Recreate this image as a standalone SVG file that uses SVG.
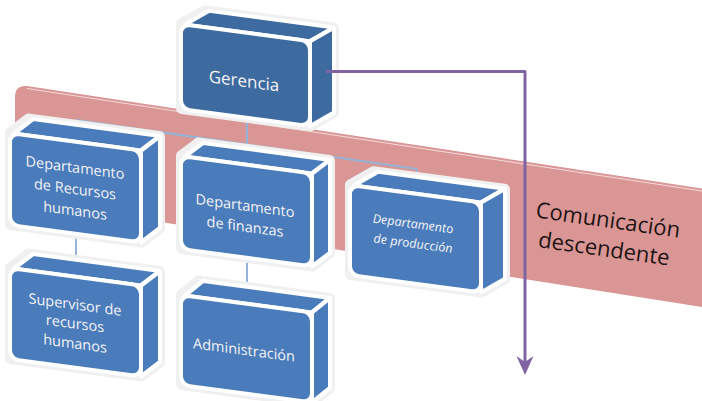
<svg xmlns="http://www.w3.org/2000/svg" width="702" height="401" viewBox="0 0 702 401">
<style>
.face{fill:#4a7bbb;stroke:#ffffff;stroke-width:4;stroke-linejoin:round}
.dark .face{fill:#3d6a9f}
.glow{fill:none;stroke:#f0f0f0;stroke-width:10;stroke-linejoin:round}
.lbl{font-family:"Open Sans","Liberation Sans",sans-serif;font-size:14.5px;fill:#f4f4f4;text-anchor:middle}
.conn{stroke:#95b3d7;stroke-width:2;fill:none}
.band{fill:#d99694}
.bandtxt{font-family:"Open Sans","Liberation Sans",sans-serif;font-size:22px;fill:#1e1414;text-anchor:middle}
</style>
<defs>
<marker id="arr" markerUnits="userSpaceOnUse" viewBox="-20 -10 21 20" markerWidth="21" markerHeight="20" refX="-12" refY="0" orient="auto">
<path d="M0,0 L-19,-8.5 L-13,0 L-19,8.5 Z" fill="#8064a2"/>
</marker>
</defs>
<g id="band">
<path class="band" d="M15,97 Q15,85 27,86 L702,188.4 L702,307 L15,199 Z"/>
<path d="M27,88.5 L702,191" stroke="#f2dcdb" stroke-width="1" fill="none"/>
<g transform="translate(607,227.5) rotate(8)">
<text class="bandtxt" x="0" y="0">Comunicación</text>
<text class="bandtxt" x="0" y="29">descendente</text>
</g>
</g>
<g id="connectors">
<path class="conn" d="M76,120 L417,169"/>
<path class="conn" d="M247,110 L247,160"/>
<path class="conn" d="M76,120 L76,140"/>
<path class="conn" d="M417,169 L417,192"/>
<path class="conn" d="M76,235 L76,275"/>
<path class="conn" d="M247,258 L247,305"/>
</g>
<g id="gerencia" class="dark" transform="translate(181,24) skewY(7.6)">
<path class="glow" d="M0,0 L24,-17 L153,-17 L153,68 L129,85 L0,85 Z"/>
<path class="face" d="M4,0 L129,0 L153,-17 L28,-17 Z"/>
<path class="face" d="M129,0 L153,-17 L153,68 L129,85 Z"/>
<rect class="face" x="0" y="0" width="129" height="85" rx="9"/>
<text class="lbl" x="63" y="54.5" style="font-size:17px">Gerencia</text>
</g>
<g id="rrhh" transform="translate(10,133) skewY(7.6)">
<path class="glow" d="M0,0 L19,-17 L150,-17 L150,75 L131,92 L0,92 Z"/>
<path class="face" d="M4,0 L131,0 L150,-17 L23,-17 Z"/>
<path class="face" d="M131,0 L150,-17 L150,75 L131,92 Z"/>
<rect class="face" x="0" y="0" width="131" height="92" rx="9"/>
<text class="lbl" x="65" y="31">Departamento</text>
<text class="lbl" x="65" y="52.5">de Recursos</text>
<text class="lbl" x="65" y="74">humanos</text>
</g>
<g id="finanzas" transform="translate(181,156) skewY(7.6)">
<path class="glow" d="M0,0 L18,-16 L149,-16 L149,77 L131,93 L0,93 Z"/>
<path class="face" d="M4,0 L131,0 L149,-16 L22,-16 Z"/>
<path class="face" d="M131,0 L149,-16 L149,77 L131,93 Z"/>
<rect class="face" x="0" y="0" width="131" height="93" rx="9"/>
<text class="lbl" x="64" y="46.2">Departamento</text>
<text class="lbl" x="64" y="67.2">de finanzas</text>
</g>
<g id="produccion" transform="translate(350,185) skewY(7.6)">
<path class="glow" d="M0,0 L24,-17 L155,-17 L155,73 L131,90 L0,90 Z"/>
<path class="face" d="M4,0 L131,0 L155,-17 L28,-17 Z"/>
<path class="face" d="M131,0 L155,-17 L155,73 L131,90 Z"/>
<rect class="face" x="0" y="0" width="131" height="90" rx="9"/>
<text class="lbl" x="63" y="34.6" style="font-size:12.5px;font-style:italic">Departamento</text>
<text class="lbl" x="63" y="54.3" style="font-size:12.5px;font-style:italic">de producción</text>
</g>
<g id="supervisor" transform="translate(10,268) skewY(7.6)">
<path class="glow" d="M0,0 L19,-17 L150,-17 L150,74 L131,91 L0,91 Z"/>
<path class="face" d="M4,0 L131,0 L150,-17 L23,-17 Z"/>
<path class="face" d="M131,0 L150,-17 L150,74 L131,91 Z"/>
<rect class="face" x="0" y="0" width="131" height="91" rx="9"/>
<text class="lbl" x="65" y="32.9">Supervisor de</text>
<text class="lbl" x="65" y="51.9">recursos</text>
<text class="lbl" x="65" y="71.9">humanos</text>
</g>
<g id="administracion" transform="translate(181,295) skewY(7.6)">
<path class="glow" d="M0,0 L18,-17 L149,-17 L149,73 L131,90 L0,90 Z"/>
<path class="face" d="M4,0 L131,0 L149,-17 L22,-17 Z"/>
<path class="face" d="M131,0 L149,-17 L149,73 L131,90 Z"/>
<rect class="face" x="0" y="0" width="131" height="90" rx="9"/>
<text class="lbl" x="63" y="51.6">Administración</text>
</g>
<g id="arrow">
<path d="M326,71.5 L525,71.5 L525,363" stroke="#8064a2" stroke-width="3" fill="none" stroke-linejoin="round" marker-end="url(#arr)"/>
</g>
</svg>
